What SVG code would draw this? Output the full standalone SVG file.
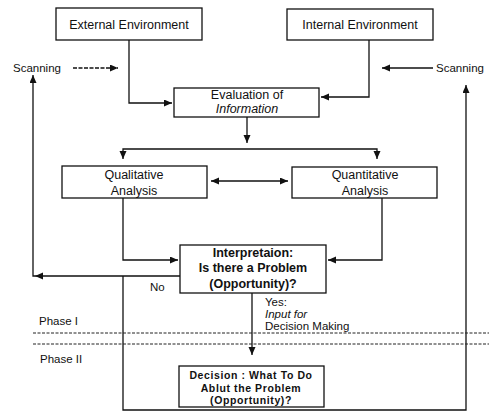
<svg xmlns="http://www.w3.org/2000/svg" width="489" height="413" viewBox="0 0 489 413">
<defs>
<marker id="ah" markerUnits="userSpaceOnUse" markerWidth="9" markerHeight="8" refX="8" refY="3.5" orient="auto-start-reverse">
<path d="M0,0 L8,3.5 L0,7 Z" fill="#111"/>
</marker>
<style>
.box{fill:#fff;stroke:#111;stroke-width:1.3}
.t{font-family:"Liberation Sans",Arial,sans-serif;font-size:12.5px;fill:#111;text-anchor:middle}
.b{font-weight:bold}
.dt{font-family:"Liberation Sans",Arial,sans-serif;font-size:10.5px;font-weight:bold;fill:#111;text-anchor:middle;letter-spacing:0.6px}
.l{font-family:"Liberation Sans",Arial,sans-serif;font-size:11.5px;fill:#111}
.c{fill:none;stroke:#111;stroke-width:1.3}
.d{fill:none;stroke:#222;stroke-width:1;stroke-dasharray:3 1.5}
</style>
</defs>
<rect width="489" height="413" fill="#fff"/>

<g id="connectors">
<path class="c" d="M129 40 V103 H172" marker-end="url(#ah)"/>
<path class="c" d="M369 40 V97 H321" marker-end="url(#ah)"/>
<path class="c" d="M73 68 H118" stroke-dasharray="4 1.5" marker-end="url(#ah)"/>
<path class="c" d="M433 68 H382" marker-end="url(#ah)"/>
<path class="c" d="M247 117 V143" marker-end="url(#ah)"/>
<path class="c" d="M247 149 H123 V159" marker-end="url(#ah)"/>
<path class="c" d="M247 149 H377 V159" marker-end="url(#ah)"/>
<path class="c" d="M211 181 H288" marker-start="url(#ah)" marker-end="url(#ah)"/>
<path class="c" d="M123 198 V260 H178" marker-end="url(#ah)"/>
<path class="c" d="M382 198 V260 H328" marker-end="url(#ah)"/>
<path class="c" d="M180 276 H33 V75" marker-end="url(#ah)"/>
<path d="M35 276 L43 272.5 L43 279.5 Z" fill="#111"/>
<path class="c" d="M123 276 V410 H466 V85" marker-end="url(#ah)"/>
<path class="c" d="M252 293 V355" marker-end="url(#ah)"/>
<path class="d" d="M33 333 H489"/>
<path class="d" d="M33 344 H489"/>
</g>

<g id="external">
<rect class="box" x="56" y="8" width="146" height="32"/>
<text class="t" x="129" y="29">External Environment</text>
</g>
<g id="internal">
<rect class="box" x="287" y="9" width="146" height="31"/>
<text class="t" x="360" y="29">Internal Environment</text>
</g>
<g id="evaluation">
<rect class="box" x="174" y="88" width="145" height="29"/>
<text class="t" x="247" y="99">Evaluation of</text>
<text class="t" x="247" y="113" font-style="italic">Information</text>
</g>
<g id="qualitative">
<rect class="box" x="62" y="166" width="145" height="32"/>
<text class="t" x="134" y="179">Qualitative</text>
<text class="t" x="134" y="195">Analysis</text>
</g>
<g id="quantitative">
<rect class="box" x="292" y="167" width="145" height="31"/>
<text class="t" x="365" y="179">Quantitative</text>
<text class="t" x="365" y="195">Analysis</text>
</g>
<g id="interpretation">
<rect class="box" x="180" y="245" width="146" height="48"/>
<text class="t b" x="253" y="257">Interpretaion:</text>
<text class="t b" x="253" y="272">Is there a Problem</text>
<text class="t b" x="253" y="288">(Opportunity)?</text>
</g>
<g id="decision">
<rect class="box" x="179" y="366" width="145" height="41"/>
<text class="dt" x="251" y="379" font-size="11.5px">Decision : What To Do</text>
<text class="dt" x="251" y="392">Ablut the Problem</text>
<text class="dt" x="251" y="404">(Opportunity)?</text>
</g>

<g id="labels">
<text class="l" x="13" y="72">Scanning</text>
<text class="l" x="436" y="72">Scanning</text>
<text class="l" x="150" y="291">No</text>
<text class="l" x="265" y="306">Yes:</text>
<text class="l" x="265" y="318" font-style="italic">Input for</text>
<text class="l" x="265" y="330">Decision Making</text>
<text class="l" x="39" y="325">Phase I</text>
<text class="l" x="40" y="363">Phase II</text>
</g>
</svg>
